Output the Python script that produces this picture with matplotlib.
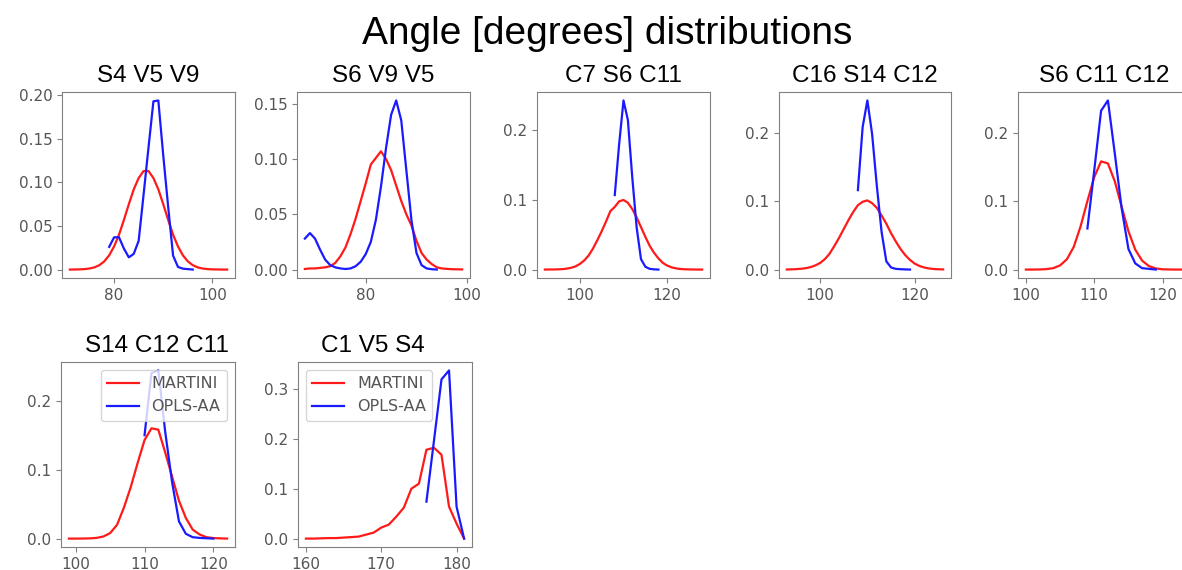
import matplotlib
matplotlib.use("Agg")
import matplotlib.pyplot as plt
from matplotlib.ticker import MultipleLocator

# angle histograms, MARTINI (red) vs OPLS-AA (blue)
titles = ["S4 V5 V9", "S6 V9 V5", "C7 S6 C11", "C16 S14 C12",
          "S6 C11 C12", "S14 C12 C11", "C1 V5 S4"]

s4v5v9_martini_x = [71, 72, 73, 74, 75, 76, 77, 78, 79, 80, 81, 82, 83, 84, 85, 86, 87,
                    88, 89, 90, 91, 92, 93, 94, 95, 96, 97, 98, 99, 100, 101, 102, 103]
s4v5v9_martini_y = [0.0, 0.0001, 0.0002, 0.0005, 0.0012, 0.0025, 0.005, 0.0094, 0.0163,
                    0.0265, 0.040, 0.057, 0.075, 0.092, 0.105, 0.113, 0.113, 0.105, 0.092,
                    0.075, 0.057, 0.040, 0.0265, 0.0163, 0.0094, 0.005, 0.0025, 0.0012,
                    0.0005, 0.0002, 0.0001, 0.0, 0.0]
s4v5v9_opls_x = [79, 80, 81, 82, 83, 84, 85, 86, 87, 88, 89, 90, 91, 92, 93, 94, 95, 96]
s4v5v9_opls_y = [0.026, 0.037, 0.037, 0.024, 0.014, 0.018, 0.033, 0.086, 0.140, 0.193,
                 0.194, 0.131, 0.072, 0.016, 0.003, 0.001, 0.0005, 0.0]

s6v9v5_martini_x = [68, 69, 70, 71, 72, 73, 74, 75, 76, 77, 78, 79, 80, 81, 82, 83, 84,
                    85, 86, 87, 88, 89, 90, 91, 92, 93, 94, 95, 96, 97, 98, 99]
s6v9v5_martini_y = [0.0005, 0.001, 0.001, 0.0015, 0.002, 0.003, 0.006, 0.012, 0.020,
                    0.032, 0.046, 0.062, 0.078, 0.095, 0.101, 0.107, 0.100, 0.090, 0.076,
                    0.062, 0.050, 0.040, 0.026, 0.015, 0.009, 0.005, 0.002, 0.001, 0.0006,
                    0.0003, 0.0002, 0.0001]
s6v9v5_opls_x = [68, 69, 70, 71, 72, 73, 74, 75, 76, 77, 78, 79, 80, 81, 82, 83, 84, 85,
                 86, 87, 88, 89, 90, 91, 92, 93, 94]
s6v9v5_opls_y = [0.028, 0.033, 0.028, 0.018, 0.009, 0.004, 0.002, 0.001, 0.0005, 0.001,
                 0.003, 0.007, 0.014, 0.025, 0.045, 0.075, 0.110, 0.140, 0.153, 0.135,
                 0.090, 0.045, 0.015, 0.004, 0.001, 0.0003, 0.0]

c7s6c11_martini_x = [92, 93, 94, 95, 96, 97, 98, 99, 100, 101, 102, 103, 104, 105, 106,
                     107, 108, 109, 110, 111, 112, 113, 114, 115, 116, 117, 118, 119, 120,
                     121, 122, 123, 124, 125, 126, 127, 128]
c7s6c11_martini_y = [0.0, 0.0001, 0.0001, 0.0003, 0.0006, 0.0013, 0.0025, 0.0045, 0.008,
                     0.013, 0.020, 0.030, 0.042, 0.055, 0.069, 0.084, 0.090, 0.098, 0.100,
                     0.096, 0.087, 0.075, 0.061, 0.047, 0.034, 0.024, 0.016, 0.0096, 0.0057,
                     0.0032, 0.0017, 0.0008, 0.0004, 0.0002, 0.0001, 0.0, 0.0]
c7s6c11_opls_x = [108, 109, 110, 111, 112, 113, 114, 115, 116, 117, 118]
c7s6c11_opls_y = [0.107, 0.180, 0.243, 0.215, 0.133, 0.061, 0.015, 0.004, 0.001, 0.0003, 0.0]

c16s14c12_martini_x = [93, 94, 95, 96, 97, 98, 99, 100, 101, 102, 103, 104, 105, 106, 107,
                       108, 109, 110, 111, 112, 113, 114, 115, 116, 117, 118, 119, 120, 121,
                       122, 123, 124, 125, 126]
c16s14c12_martini_y = [0.0001, 0.0003, 0.0006, 0.0011, 0.002, 0.0035, 0.006, 0.0095, 0.015,
                       0.023, 0.034, 0.046, 0.059, 0.072, 0.084, 0.094, 0.099, 0.101, 0.097,
                       0.090, 0.079, 0.067, 0.053, 0.041, 0.030, 0.021, 0.014, 0.0086,
                       0.0052, 0.003, 0.0016, 0.0008, 0.0004, 0.0002]
c16s14c12_opls_x = [108, 109, 110, 111, 112, 113, 114, 115, 116, 117, 118, 119]
c16s14c12_opls_y = [0.116, 0.208, 0.247, 0.198, 0.122, 0.055, 0.012, 0.003, 0.001, 0.0005,
                    0.0002, 0.0]

s6c11c12_martini_x = [100, 101, 102, 103, 104, 105, 106, 107, 108, 109, 110, 111, 112, 113,
                      114, 115, 116, 117, 118, 119, 120, 121, 122, 123]
s6c11c12_martini_y = [0.0, 0.0, 0.0001, 0.0006, 0.002, 0.006, 0.015, 0.033, 0.063, 0.100,
                      0.135, 0.158, 0.155, 0.129, 0.092, 0.056, 0.029, 0.013, 0.005, 0.0016,
                      0.0004, 0.0001, 0.0, 0.0]
s6c11c12_opls_x = [109, 110, 111, 112, 113, 114, 115, 116, 117, 118, 119]
s6c11c12_opls_y = [0.060, 0.145, 0.232, 0.247, 0.170, 0.090, 0.030, 0.009, 0.002, 0.001, 0.0]

s14c12c11_martini_x = [99, 100, 101, 102, 103, 104, 105, 106, 107, 108, 109, 110, 111, 112,
                       113, 114, 115, 116, 117, 118, 119, 120, 121, 122]
s14c12c11_martini_y = [0.0, 0.0, 0.0001, 0.0003, 0.001, 0.003, 0.008, 0.020, 0.045, 0.075,
                       0.110, 0.143, 0.160, 0.158, 0.125, 0.090, 0.055, 0.030, 0.013, 0.006,
                       0.002, 0.0008, 0.0003, 0.0]
s14c12c11_opls_x = [110, 111, 112, 113, 114, 115, 116, 117, 118, 119, 120]
s14c12c11_opls_y = [0.150, 0.240, 0.244, 0.155, 0.082, 0.025, 0.007, 0.002, 0.001, 0.0005, 0.0]

c1v5s4_martini_x = [160, 161, 162, 163, 164, 165, 166, 167, 168, 169, 170, 171, 172, 173,
                    174, 175, 176, 177, 178, 179, 180, 181]
c1v5s4_martini_y = [0.0, 0.0, 0.0005, 0.001, 0.001, 0.002, 0.003, 0.004, 0.008, 0.012, 0.022,
                    0.028, 0.044, 0.062, 0.100, 0.110, 0.178, 0.182, 0.168, 0.064, 0.030, 0.0]
c1v5s4_opls_x = [176, 177, 178, 179, 180, 181]
c1v5s4_opls_y = [0.074, 0.196, 0.319, 0.337, 0.064, 0.0]

panels = [
    (s4v5v9_martini_x, s4v5v9_martini_y, s4v5v9_opls_x, s4v5v9_opls_y),
    (s6v9v5_martini_x, s6v9v5_martini_y, s6v9v5_opls_x, s6v9v5_opls_y),
    (c7s6c11_martini_x, c7s6c11_martini_y, c7s6c11_opls_x, c7s6c11_opls_y),
    (c16s14c12_martini_x, c16s14c12_martini_y, c16s14c12_opls_x, c16s14c12_opls_y),
    (s6c11c12_martini_x, s6c11c12_martini_y, s6c11c12_opls_x, s6c11c12_opls_y),
    (s14c12c11_martini_x, s14c12c11_martini_y, s14c12c11_opls_x, s14c12c11_opls_y),
    (c1v5s4_martini_x, c1v5s4_martini_y, c1v5s4_opls_x, c1v5s4_opls_y),
]

# layout in pixels of the 1182x570 canvas: left, top, width, height
W, H = 1182, 570
boxes = [(62, 92, 173, 186), (297, 92, 173, 186), (537, 92, 173, 186),
         (779, 92, 172, 186), (1018, 92, 173, 186),
         (61, 362, 174, 185), (298, 362, 174, 185)]
x_steps = [20, 20, 20, 20, 10, 10, 10]
y_steps = [0.05, 0.05, 0.1, 0.1, 0.1, 0.1, 0.1]
title_x = [0.5, 0.5, 0.5, 0.5, 0.5, 0.55, 0.43]
legend_loc = {5: "upper right", 6: "upper left"}

fig = plt.figure(figsize=(W / 100, H / 100), dpi=100)
fig.text(0.514, 1 - 44 / H, "Angle [degrees] distributions", ha="center", va="baseline",
         fontsize=28, family="Liberation Sans")

for i, (mx, my, ox, oy) in enumerate(panels):
    l, t, w, h = boxes[i]
    ax = fig.add_axes([l / W, 1 - (t + h) / H, w / W, h / H])
    ax.plot(mx, my, color="#ff1a1a", lw=1.6, label="MARTINI")
    ax.plot(ox, oy, color="#1a1aff", lw=1.6, label="OPLS-AA")
    ax.xaxis.set_major_locator(MultipleLocator(x_steps[i]))
    ax.yaxis.set_major_locator(MultipleLocator(y_steps[i]))
    ax.tick_params(labelsize=11, colors="#808080", labelcolor="#555555")
    for s in ax.spines.values():
        s.set_color("#808080")
    ax.set_title(titles[i], x=title_x[i], fontsize=17.5, family="Liberation Sans", pad=7)
    if i in legend_loc:
        leg = ax.legend(loc=legend_loc[i], fontsize=11.5)
        for txt in leg.get_texts():
            txt.set_color("#555555")

fig.savefig("out.png", dpi=100)
